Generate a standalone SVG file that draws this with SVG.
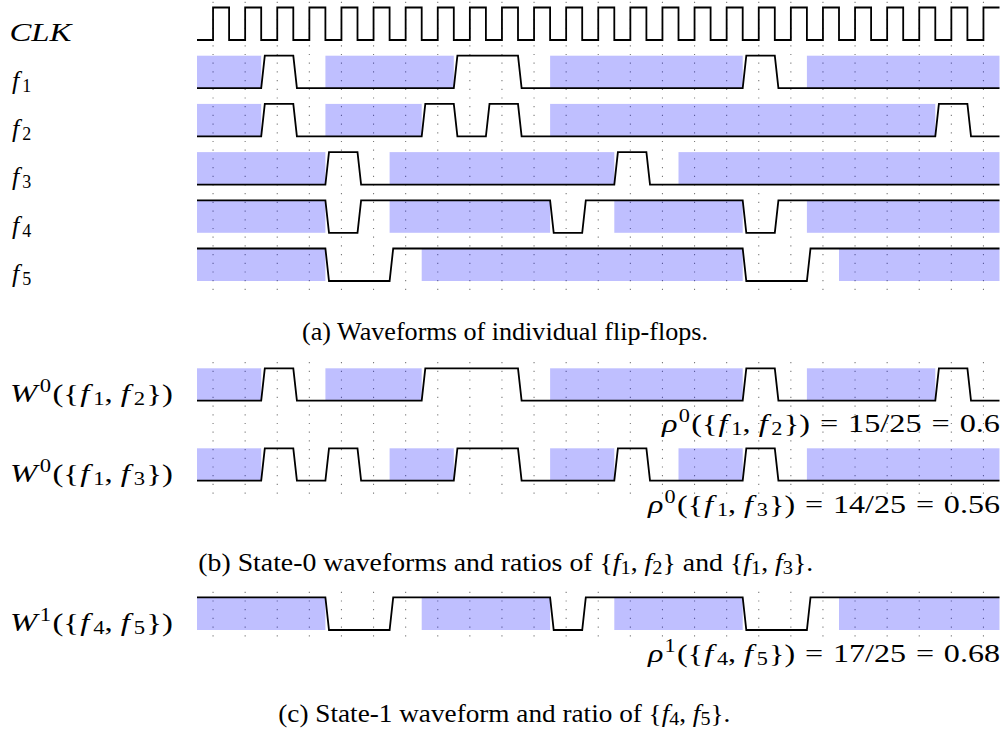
<svg xmlns="http://www.w3.org/2000/svg" width="1004" height="731" viewBox="0 0 1004 731">
<style>
.shade{fill:#0000ff;fill-opacity:0.25}
.grid{stroke:#7a7a7a;stroke-width:1.1;stroke-dasharray:1.2 7.5;fill:none}
.wave{stroke:#000;stroke-width:1.8;fill:none;stroke-linejoin:miter}
.m{font-family:"Liberation Serif","Times New Roman",serif;font-size:26px;fill:#000}
.it{font-style:italic}
.s{font-size:18px}
.cap{font-family:"Liberation Serif","Times New Roman",serif;font-size:24.5px;fill:#000}
</style>
<rect width="1004" height="731" fill="#fff"/>
<g id="grid">
<path class="grid" d="M213.05,1.7V290 M245.15,1.7V290 M277.25,1.7V290 M309.35,1.7V290 M341.45,1.7V290 M373.55,1.7V290 M405.65,1.7V290 M437.75,1.7V290 M469.85,1.7V290 M501.95,1.7V290 M534.05,1.7V290 M566.15,1.7V290 M598.25,1.7V290 M630.35,1.7V290 M662.45,1.7V290 M694.55,1.7V290 M726.65,1.7V290 M758.75,1.7V290 M790.85,1.7V290 M822.95,1.7V290 M855.05,1.7V290 M887.15,1.7V290 M919.25,1.7V290 M951.35,1.7V290 M983.45,1.7V290"/>
<path class="grid" d="M213.05,362V494 M245.15,362V494 M277.25,362V494 M309.35,362V494 M341.45,362V494 M373.55,362V494 M405.65,362V494 M437.75,362V494 M469.85,362V494 M501.95,362V494 M534.05,362V494 M566.15,362V494 M598.25,362V494 M630.35,362V494 M662.45,362V494 M694.55,362V494 M726.65,362V494 M758.75,362V494 M790.85,362V494 M822.95,362V494 M855.05,362V494 M887.15,362V494 M919.25,362V494 M951.35,362V494 M983.45,362V494"/>
<path class="grid" d="M213.05,591.7V637 M245.15,591.7V637 M277.25,591.7V637 M309.35,591.7V637 M341.45,591.7V637 M373.55,591.7V637 M405.65,591.7V637 M437.75,591.7V637 M469.85,591.7V637 M501.95,591.7V637 M534.05,591.7V637 M566.15,591.7V637 M598.25,591.7V637 M630.35,591.7V637 M662.45,591.7V637 M694.55,591.7V637 M726.65,591.7V637 M758.75,591.7V637 M790.85,591.7V637 M822.95,591.7V637 M855.05,591.7V637 M887.15,591.7V637 M919.25,591.7V637 M951.35,591.7V637 M983.45,591.7V637"/>
</g>
<g id="clk">
<text class="m it" x="9.5" y="41" textLength="62" lengthAdjust="spacingAndGlyphs">CLK</text>
<path class="wave" d="M197,40 H213.05 V7.5 H229.1 V40 H245.15 V7.5 H261.2 V40 H277.25 V7.5 H293.3 V40 H309.35 V7.5 H325.4 V40 H341.45 V7.5 H357.5 V40 H373.55 V7.5 H389.6 V40 H405.65 V7.5 H421.7 V40 H437.75 V7.5 H453.8 V40 H469.85 V7.5 H485.9 V40 H501.95 V7.5 H518 V40 H534.05 V7.5 H550.1 V40 H566.15 V7.5 H582.2 V40 H598.25 V7.5 H614.3 V40 H630.35 V7.5 H646.4 V40 H662.45 V7.5 H678.5 V40 H694.55 V7.5 H710.6 V40 H726.65 V7.5 H742.7 V40 H758.75 V7.5 H774.8 V40 H790.85 V7.5 H806.9 V40 H822.95 V7.5 H839 V40 H855.05 V7.5 H871.1 V40 H887.15 V7.5 H903.2 V40 H919.25 V7.5 H935.3 V40 H951.35 V7.5 H967.4 V40 H983.45 V7.5 H999.5"/>
</g>
<g id="f1">
<text class="m" x="12" y="89"><tspan class="it">f</tspan><tspan class="s" dx="3" dy="3">1</tspan></text>
<rect class="shade" x="197" y="55.7" width="64.2" height="32.5"/>
<rect class="shade" x="325.4" y="55.7" width="128.4" height="32.5"/>
<rect class="shade" x="550.1" y="55.7" width="192.6" height="32.5"/>
<rect class="shade" x="806.9" y="55.7" width="192.6" height="32.5"/>
<path class="wave" d="M197,88.2 L261.2,88.2 L264.8,55.7 L293.3,55.7 L296.9,88.2 L453.8,88.2 L457.4,55.7 L518,55.7 L521.6,88.2 L742.7,88.2 L746.3,55.7 L774.8,55.7 L778.4,88.2 L999.5,88.2"/>
</g>
<g id="f2">
<text class="m" x="12" y="137.2"><tspan class="it">f</tspan><tspan class="s" dx="3" dy="3">2</tspan></text>
<rect class="shade" x="197" y="103.9" width="64.2" height="32.5"/>
<rect class="shade" x="325.4" y="103.9" width="96.3" height="32.5"/>
<rect class="shade" x="550.1" y="103.9" width="385.2" height="32.5"/>
<path class="wave" d="M197,136.4 L261.2,136.4 L264.8,103.9 L293.3,103.9 L296.9,136.4 L421.7,136.4 L425.3,103.9 L453.8,103.9 L457.4,136.4 L485.9,136.4 L489.5,103.9 L518,103.9 L521.6,136.4 L935.3,136.4 L938.9,103.9 L967.4,103.9 L971,136.4 L999.5,136.4"/>
</g>
<g id="f3">
<text class="m" x="12" y="185.4"><tspan class="it">f</tspan><tspan class="s" dx="3" dy="3">3</tspan></text>
<rect class="shade" x="197" y="152.1" width="128.4" height="32.5"/>
<rect class="shade" x="389.6" y="152.1" width="224.7" height="32.5"/>
<rect class="shade" x="678.5" y="152.1" width="321" height="32.5"/>
<path class="wave" d="M197,184.6 L325.4,184.6 L329,152.1 L357.5,152.1 L361.1,184.6 L614.3,184.6 L617.9,152.1 L646.4,152.1 L650,184.6 L999.5,184.6"/>
</g>
<g id="f4">
<text class="m" x="12" y="233.6"><tspan class="it">f</tspan><tspan class="s" dx="3" dy="3">4</tspan></text>
<rect class="shade" x="197" y="200.3" width="128.4" height="32.5"/>
<rect class="shade" x="389.6" y="200.3" width="160.5" height="32.5"/>
<rect class="shade" x="614.3" y="200.3" width="128.4" height="32.5"/>
<rect class="shade" x="806.9" y="200.3" width="192.6" height="32.5"/>
<path class="wave" d="M197,200.3 L325.4,200.3 L329,232.8 L357.5,232.8 L361.1,200.3 L550.1,200.3 L553.7,232.8 L582.2,232.8 L585.8,200.3 L742.7,200.3 L746.3,232.8 L774.8,232.8 L778.4,200.3 L999.5,200.3"/>
</g>
<g id="f5">
<text class="m" x="12" y="281.8"><tspan class="it">f</tspan><tspan class="s" dx="3" dy="3">5</tspan></text>
<rect class="shade" x="197" y="248.5" width="128.4" height="32.5"/>
<rect class="shade" x="421.7" y="248.5" width="321" height="32.5"/>
<rect class="shade" x="839" y="248.5" width="160.5" height="32.5"/>
<path class="wave" d="M197,248.5 L325.4,248.5 L329,281 L389.6,281 L393.2,248.5 L742.7,248.5 L746.3,281 L806.9,281 L810.5,248.5 L999.5,248.5"/>
</g>
<g id="caption-a">
<text class="cap" x="302" y="340" textLength="406" lengthAdjust="spacingAndGlyphs">(a) Waveforms of individual flip-flops.</text>
</g>
<g id="w0-f1f2">
<text class="m" x="10" y="401.7" textLength="163" lengthAdjust="spacingAndGlyphs"><tspan class="it">W</tspan><tspan class="s" dx="2" dy="-10">0</tspan><tspan dx="1" dy="10">({</tspan><tspan class="it" dx="1">f</tspan><tspan class="s" dx="3" dy="3">1</tspan><tspan dy="-3">, </tspan><tspan class="it">f</tspan><tspan class="s" dx="3" dy="3">2</tspan><tspan dx="1" dy="-3">})</tspan></text>
<rect class="shade" x="197" y="368.3" width="64.2" height="32.4"/>
<rect class="shade" x="325.4" y="368.3" width="96.3" height="32.4"/>
<rect class="shade" x="550.1" y="368.3" width="192.6" height="32.4"/>
<rect class="shade" x="806.9" y="368.3" width="128.4" height="32.4"/>
<path class="wave" d="M197,400.7 L261.2,400.7 L264.8,368.3 L293.3,368.3 L296.9,400.7 L421.7,400.7 L425.3,368.3 L518,368.3 L521.6,400.7 L742.7,400.7 L746.3,368.3 L774.8,368.3 L778.4,400.7 L935.3,400.7 L938.9,368.3 L967.4,368.3 L971,400.7 L999.5,400.7"/>
<text class="m" x="1000" y="432" text-anchor="end" textLength="338" lengthAdjust="spacingAndGlyphs"><tspan class="it">ρ</tspan><tspan class="s" dx="1" dy="-10">0</tspan><tspan dx="1" dy="10">({</tspan><tspan class="it" dx="1">f</tspan><tspan class="s" dx="3" dy="3">1</tspan><tspan dy="-3">, </tspan><tspan class="it">f</tspan><tspan class="s" dx="3" dy="3">2</tspan><tspan dx="1" dy="-3">})</tspan><tspan dx="8">=</tspan><tspan dx="8">15/25</tspan><tspan dx="8">=</tspan><tspan dx="8">0.6</tspan></text>
</g>
<g id="w0-f1f3">
<text class="m" x="10" y="481.7" textLength="163" lengthAdjust="spacingAndGlyphs"><tspan class="it">W</tspan><tspan class="s" dx="2" dy="-10">0</tspan><tspan dx="1" dy="10">({</tspan><tspan class="it" dx="1">f</tspan><tspan class="s" dx="3" dy="3">1</tspan><tspan dy="-3">, </tspan><tspan class="it">f</tspan><tspan class="s" dx="3" dy="3">3</tspan><tspan dx="1" dy="-3">})</tspan></text>
<rect class="shade" x="197" y="448.3" width="64.2" height="32.4"/>
<rect class="shade" x="389.6" y="448.3" width="64.2" height="32.4"/>
<rect class="shade" x="550.1" y="448.3" width="64.2" height="32.4"/>
<rect class="shade" x="678.5" y="448.3" width="64.2" height="32.4"/>
<rect class="shade" x="806.9" y="448.3" width="192.6" height="32.4"/>
<path class="wave" d="M197,480.7 L261.2,480.7 L264.8,448.3 L293.3,448.3 L296.9,480.7 L325.4,480.7 L329,448.3 L357.5,448.3 L361.1,480.7 L453.8,480.7 L457.4,448.3 L518,448.3 L521.6,480.7 L614.3,480.7 L617.9,448.3 L646.4,448.3 L650,480.7 L742.7,480.7 L746.3,448.3 L774.8,448.3 L778.4,480.7 L999.5,480.7"/>
<text class="m" x="1000" y="513" text-anchor="end" textLength="352" lengthAdjust="spacingAndGlyphs"><tspan class="it">ρ</tspan><tspan class="s" dx="1" dy="-10">0</tspan><tspan dx="1" dy="10">({</tspan><tspan class="it" dx="1">f</tspan><tspan class="s" dx="3" dy="3">1</tspan><tspan dy="-3">, </tspan><tspan class="it">f</tspan><tspan class="s" dx="3" dy="3">3</tspan><tspan dx="1" dy="-3">})</tspan><tspan dx="8">=</tspan><tspan dx="8">14/25</tspan><tspan dx="8">=</tspan><tspan dx="8">0.56</tspan></text>
</g>
<g id="caption-b">
<text class="cap" x="198.3" y="571" textLength="615" lengthAdjust="spacingAndGlyphs">(b) State-0 waveforms and ratios of {<tspan class="it">f</tspan><tspan class="s" dy="3">1</tspan><tspan dy="-3">, </tspan><tspan class="it">f</tspan><tspan class="s" dy="3">2</tspan><tspan dy="-3">} and {</tspan><tspan class="it">f</tspan><tspan class="s" dy="3">1</tspan><tspan dy="-3">, </tspan><tspan class="it">f</tspan><tspan class="s" dy="3">3</tspan><tspan dy="-3">}.</tspan></text>
</g>
<g id="w1-f4f5">
<text class="m" x="10" y="631" textLength="163" lengthAdjust="spacingAndGlyphs"><tspan class="it">W</tspan><tspan class="s" dx="2" dy="-10">1</tspan><tspan dx="1" dy="10">({</tspan><tspan class="it" dx="1">f</tspan><tspan class="s" dx="3" dy="3">4</tspan><tspan dy="-3">, </tspan><tspan class="it">f</tspan><tspan class="s" dx="3" dy="3">5</tspan><tspan dx="1" dy="-3">})</tspan></text>
<rect class="shade" x="197" y="597.3" width="128.4" height="32.7"/>
<rect class="shade" x="421.7" y="597.3" width="128.4" height="32.7"/>
<rect class="shade" x="614.3" y="597.3" width="128.4" height="32.7"/>
<rect class="shade" x="839" y="597.3" width="160.5" height="32.7"/>
<path class="wave" d="M197,597.3 L325.4,597.3 L329,630 L389.6,630 L393.2,597.3 L550.1,597.3 L553.7,630 L582.2,630 L585.8,597.3 L742.7,597.3 L746.3,630 L806.9,630 L810.5,597.3 L999.5,597.3"/>
<text class="m" x="1000" y="661.7" text-anchor="end" textLength="352" lengthAdjust="spacingAndGlyphs"><tspan class="it">ρ</tspan><tspan class="s" dx="1" dy="-10">1</tspan><tspan dx="1" dy="10">({</tspan><tspan class="it" dx="1">f</tspan><tspan class="s" dx="3" dy="3">4</tspan><tspan dy="-3">, </tspan><tspan class="it">f</tspan><tspan class="s" dx="3" dy="3">5</tspan><tspan dx="1" dy="-3">})</tspan><tspan dx="8">=</tspan><tspan dx="8">17/25</tspan><tspan dx="8">=</tspan><tspan dx="8">0.68</tspan></text>
</g>
<g id="caption-c">
<text class="cap" x="278.3" y="722" textLength="452" lengthAdjust="spacingAndGlyphs">(c) State-1 waveform and ratio of {<tspan class="it">f</tspan><tspan class="s" dy="3">4</tspan><tspan dy="-3">, </tspan><tspan class="it">f</tspan><tspan class="s" dy="3">5</tspan><tspan dy="-3">}.</tspan></text>
</g>
</svg>
